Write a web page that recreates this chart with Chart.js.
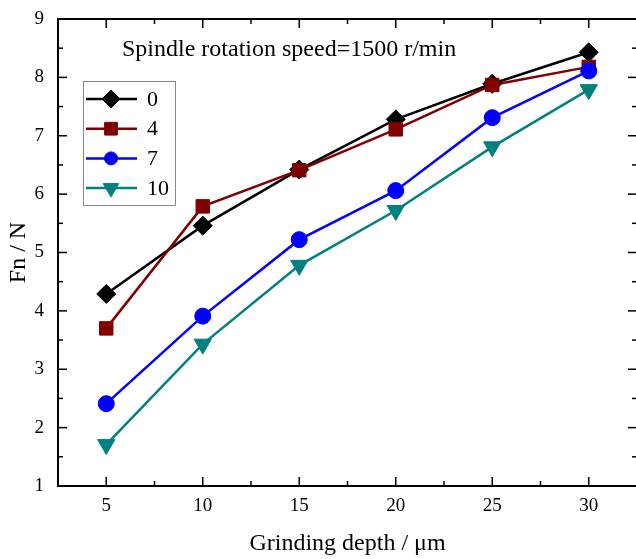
<!DOCTYPE html>
<html>
<head>
<meta charset="utf-8">
<script src="https://cdn.jsdelivr.net/npm/chart.js@4.4.1/dist/chart.umd.min.js"></script>
<style>
  html, body { margin: 0; padding: 0; background: #fff; overflow: hidden; }
  #wrap { width: 648px; height: 559px; }
</style>
</head>
<body>
<div id="wrap"><canvas id="chart" width="648" height="559"></canvas></div>
<script>
// values
const depths = [5, 10, 15, 20, 25, 30];
const fn0  = [4.29, 5.46, 6.42, 7.28, 7.89, 8.43];
const fn4  = [3.70, 5.79, 6.41, 7.11, 7.87, 8.18];
const fn7  = [2.41, 3.91, 5.22, 6.06, 7.31, 8.11];
const fn10 = [1.71, 3.43, 4.78, 5.72, 6.81, 7.79];
const seriesNames = ['0', '4', '7', '10'];

const xTicks = [5, 10, 15, 20, 25, 30];
const xMinorTicks = [7.5, 12.5, 17.5, 22.5, 27.5];
const yTicks = [1, 2, 3, 4, 5, 6, 7, 8, 9];
const yMinorTicks = [1.5, 2.5, 3.5, 4.5, 5.5, 6.5, 7.5, 8.5];

const FONT = '"Liberation Serif", "Times New Roman", serif';

const styles = [
  { color: '#000000', pointStyle: 'rectRot', radius: 9.5, legendRadius: 9, rotation: 0 },
  { color: '#800000', pointStyle: 'rect', radius: 9.5, legendRadius: 9, rotation: 0 },
  { color: '#0000ff', pointStyle: 'circle', radius: 8, legendRadius: 6.5, rotation: 0 },
  { color: '#008080', pointStyle: 'triangle', radius: 10, legendRadius: 9, rotation: 180 }
];

function makeSet(i, values) {
  const s = styles[i];
  return {
    label: seriesNames[i],
    data: depths.map((d, k) => ({ x: d, y: values[k] })),
    borderColor: s.color,
    backgroundColor: s.color,
    borderWidth: 2.5,
    pointStyle: s.pointStyle,
    pointRadius: s.radius,
    pointRotation: s.rotation,
    pointBorderWidth: 1,
    order: 4 - i,
    tension: 0
  };
}

// frame, inward ticks, legend box and annotation
const decorations = {
  id: 'decorations',
  afterDraw(chart) {
    const { ctx, chartArea: a, scales: { x, y } } = chart;
    ctx.save();
    ctx.strokeStyle = '#000';
    ctx.lineWidth = 2;
    ctx.strokeRect(a.left, a.top, a.right - a.left, a.bottom - a.top);

    function seg(x1, y1, x2, y2) {
      ctx.beginPath(); ctx.moveTo(x1, y1); ctx.lineTo(x2, y2); ctx.stroke();
    }
    ctx.lineWidth = 1.5;
    xTicks.concat(xMinorTicks).forEach(v => {
      const px = x.getPixelForValue(v);
      const len = xTicks.includes(v) ? 9 : 5;
      seg(px, a.bottom, px, a.bottom - len);
      seg(px, a.top, px, a.top + len);
    });
    yTicks.concat(yMinorTicks).forEach(v => {
      const py = y.getPixelForValue(v);
      const len = yTicks.includes(v) ? 9 : 5;
      seg(a.left, py, a.left + len, py);
      seg(a.right, py, a.right - len, py);
    });

    // annotation
    ctx.fillStyle = '#000';
    ctx.font = '24px ' + FONT;
    ctx.textBaseline = 'middle';
    ctx.textAlign = 'left';
    ctx.fillText('Spindle rotation speed=1500 r/min', 122, 50);

    // legend
    ctx.strokeStyle = '#888';
    ctx.lineWidth = 1;
    ctx.strokeRect(83.5, 81.5, 92, 124);
    chart.data.datasets.forEach((ds, i) => {
      const s = styles[i];
      const ly = 99 + i * 29.7;
      ctx.strokeStyle = s.color;
      ctx.fillStyle = s.color;
      ctx.lineWidth = 2.5;
      seg(86, ly, 137, ly);
      ctx.lineWidth = 1;
      Chart.helpers.drawPoint(ctx, {
        pointStyle: s.pointStyle, radius: s.legendRadius, rotation: s.rotation, borderWidth: 1
      }, 111, ly);
      ctx.fillStyle = '#000';
      ctx.font = '22px ' + FONT;
      ctx.fillText(ds.label, 147, ly + 1);
    });
    ctx.restore();
  }
};

new Chart(document.getElementById('chart'), {
  type: 'line',
  data: {
    datasets: [makeSet(0, fn0), makeSet(1, fn4), makeSet(2, fn7), makeSet(3, fn10)]
  },
  options: {
    responsive: false,
    animation: false,
    layout: { padding: { top: 19, right: 2, left: 0, bottom: 0 } },
    plugins: { legend: { display: false }, tooltip: { enabled: false } },
    scales: {
      x: {
        type: 'linear',
        min: 2.5,
        max: 32.5,
        afterBuildTicks: s => { s.ticks = xTicks.map(v => ({ value: v })); },
        afterFit: s => { s.height = 73; },
        grid: { display: false },
        border: { display: false },
        ticks: { color: '#000', font: { family: FONT, size: 19 }, padding: 1, maxRotation: 0 },
        title: {
          display: true,
          text: 'Grinding depth / μm',
          color: '#000',
          font: { family: FONT, size: 24 },
          padding: { top: 4, bottom: 1 }
        }
      },
      y: {
        min: 1,
        max: 9,
        afterBuildTicks: s => { s.ticks = yTicks.map(v => ({ value: v })); },
        afterFit: s => { s.width = 58; },
        grid: { display: false },
        border: { display: false },
        ticks: { color: '#000', font: { family: FONT, size: 19 }, padding: 6 },
        title: {
          display: true,
          text: 'Fn / N',
          color: '#000',
          font: { family: FONT, size: 24 },
          padding: { top: 4, bottom: 0 }
        }
      }
    }
  },
  plugins: [decorations]
});
</script>
</body>
</html>
